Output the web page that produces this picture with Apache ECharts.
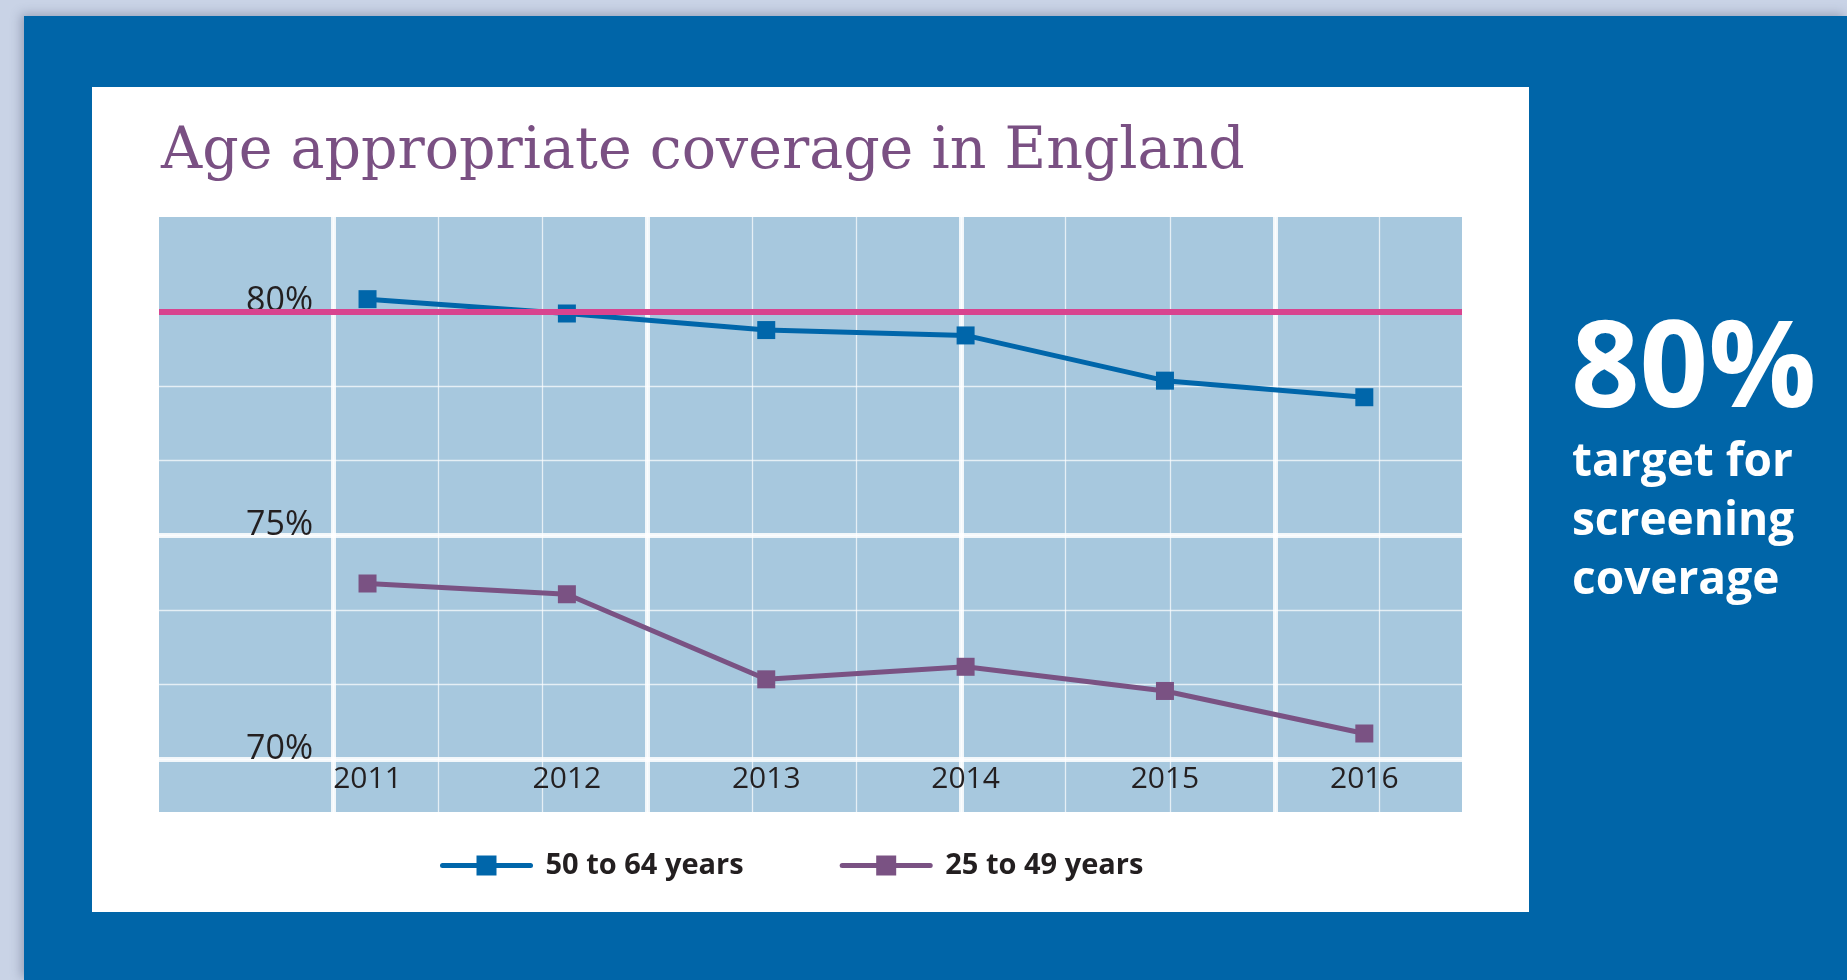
<!DOCTYPE html>
<html>
<head>
<meta charset="utf-8">
<script src="https://cdn.jsdelivr.net/npm/echarts@6/dist/echarts.min.js"></script>
<style>
  html, body { margin: 0; padding: 0; width: 1847px; height: 980px; overflow: hidden; background: #c9d3e6; }
  #panel { position: absolute; left: 24px; top: 16px; width: 1823px; height: 964px; background: #0065a8;
           box-shadow: -3px -2px 10px rgba(60,70,100,0.35); }
  #card { position: absolute; left: 92px; top: 87px; width: 1437px; height: 825px; background: #ffffff; }
  #chart { position: absolute; left: 0; top: 0; width: 1847px; height: 980px; }
</style>
</head>
<body>
<div id="panel"></div>
<div id="card"></div>
<div id="chart"></div>
<script>
// ---- data ----
const years = [2011, 2012, 2013, 2014, 2015, 2016];
const age50to64 = [80.27, 79.95, 79.58, 79.46, 78.45, 78.08];
const age25to49 = [73.92, 73.68, 71.78, 72.06, 71.52, 70.57];
const targetValue = 80;
const seriesNames = ['50 to 64 years', '25 to 49 years'];
const yLabelTicks = [70, 75, 80];
const yMinorTicks = [70, 71.667, 73.333, 75, 76.667, 78.333, 80];
const xGridTicks = [0, 1, 2, 3, 4, 5, 6, 7, 8, 9, 10];
const xGridMajorTicks = [0, 3, 6, 9];
const titleText = 'Age appropriate coverage in England';
const sideBig = '80%';
const sideSmall = 'target for\nscreening\ncoverage';

const pairs = (vals) => years.map((y, i) => [y, vals[i]]);

const gridRect = { left: 159, top: 217, width: 1303, height: 595 };
const txt = '#231f20';
const font = '"Open Sans", "Noto Sans", sans-serif';

const chart = echarts.init(document.getElementById('chart'), null, { renderer: 'canvas' });

const option = {
  animation: false,
  backgroundColor: 'transparent',
  title: {
    text: titleText,
    left: 156, top: 120,
    textStyle: { fontFamily: '"DejaVu Serif", serif', fontWeight: 'normal', fontSize: 57, color: '#7a5083' }
  },
  legend: {
    data: seriesNames,
    left: 435, top: 846,
    itemWidth: 88, itemHeight: 25, itemGap: 96,
    lineStyle: { width: 5, cap: 'round' },
    textStyle: { fontFamily: font, fontWeight: 'bold', fontSize: 29, color: txt, padding: [0, 0, 0, 10] }
  },
  grid: [
    Object.assign({ show: true, backgroundColor: '#a7c8de', borderWidth: 0 }, gridRect),
    Object.assign({ show: false }, gridRect)
  ],
  xAxis: [
    {
      type: 'value', gridIndex: 0, position: 'bottom', min: 2009.954, max: 2016.49,
      axisLine: { show: false }, axisTick: { show: false },
      splitLine: { show: false },
      axisLabel: {
        customValues: years, inside: true, margin: 33, verticalAlign: 'middle',
        formatter: (v) => String(v),
        fontFamily: font, fontSize: 30, color: txt
      }
    },
    {
      type: 'value', gridIndex: 0, position: 'top', min: -1.666, max: 10.789,
      axisLine: { show: false }, axisLabel: { show: false },
      axisTick: { show: false, customValues: xGridTicks },
      splitLine: { show: true, lineStyle: { color: 'rgba(255,255,255,0.7)', width: 1.3 } }
    },
    {
      type: 'value', gridIndex: 1, position: 'bottom', min: -1.666, max: 10.789,
      axisLine: { show: false }, axisLabel: { show: false },
      axisTick: { show: false, customValues: xGridMajorTicks },
      splitLine: { show: true, lineStyle: { color: 'rgba(255,255,255,0.85)', width: 5 } }
    }
  ],
  yAxis: [
    {
      type: 'value', gridIndex: 0, position: 'left', min: 68.817, max: 82.105,
      axisLine: { show: false },
      axisTick: { show: false, customValues: yLabelTicks },
      splitLine: { show: true, lineStyle: { color: 'rgba(255,255,255,0.85)', width: 5 } },
      axisLabel: {
        customValues: yLabelTicks, inside: true, margin: 154, align: 'right', verticalAlign: 'bottom',
        lineHeight: 19,
        formatter: (v) => v + '%',
        fontFamily: font, fontSize: 34, color: txt
      }
    },
    {
      type: 'value', gridIndex: 0, position: 'right', min: 68.817, max: 82.105,
      axisLine: { show: false }, axisLabel: { show: false },
      axisTick: { show: false, customValues: yMinorTicks },
      splitLine: { show: true, lineStyle: { color: 'rgba(255,255,255,0.7)', width: 1.3 } }
    },
    {
      type: 'value', gridIndex: 1, min: 68.817, max: 82.105, show: false
    }
  ],
  series: [
    {
      name: 'Target', type: 'line', xAxisIndex: 0, yAxisIndex: 0, data: [], z: 1,
      markLine: {
        silent: true, symbol: ['none', 'none'], label: { show: false },
        lineStyle: { color: '#d8448f', width: 6, type: 'solid' },
        emphasis: { disabled: true },
        data: [{ yAxis: targetValue }]
      }
    },
    {
      name: seriesNames[0], type: 'line', xAxisIndex: 0, yAxisIndex: 0, z: 4,
      data: pairs(age50to64),
      symbol: 'rect', symbolSize: 18,
      lineStyle: { color: '#0066aa', width: 5 },
      itemStyle: { color: '#0066aa' }
    },
    {
      name: seriesNames[1], type: 'line', xAxisIndex: 0, yAxisIndex: 0, z: 3,
      data: pairs(age25to49),
      symbol: 'rect', symbolSize: 18,
      lineStyle: { color: '#7a5283', width: 5 },
      itemStyle: { color: '#7a5283' }
    }
  ],
  graphic: [
    {
      type: 'text', left: 1571, top: 313, z: 100,
      style: { text: sideBig, fill: '#ffffff', font: 'bold 120px ' + font }
    },
    {
      type: 'text', left: 1572, top: 433, z: 100,
      style: { text: sideSmall, fill: '#ffffff', font: 'bold 46px ' + font, lineHeight: 59 }
    }
  ]
};
chart.setOption(option);
</script>
</body>
</html>
